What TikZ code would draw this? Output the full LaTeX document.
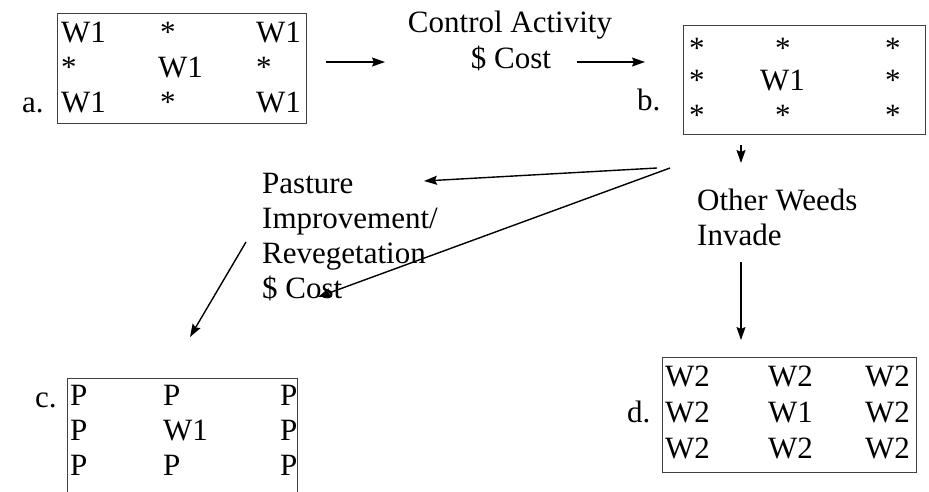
\documentclass[tikz,border=0pt]{standalone}
\usepackage{fontspec}
\setmainfont{Liberation Serif}
\usetikzlibrary{arrows.meta}
\begin{document}
\begin{tikzpicture}[x=1pt,y=-1pt,
  txt/.style={anchor=base west,inner sep=0pt,font=\fontsize{31}{35}\selectfont},
  ctxt/.style={anchor=base,inner sep=0pt,font=\fontsize{31}{35}\selectfont},
  gridbox/.style={draw=black!75,line width=1pt},
  arr/.style={line width=1.4pt,-{Stealth[length=13pt,width=9pt,inset=2pt]}}]
\useasboundingbox (0,0) rectangle (929,491);
% box a
\draw[gridbox] (57,13) rectangle (306,123);
\node[txt] (a11) at (61,42) {W1};
\node[txt] (a12) at (160,42) {*};
\node[txt] (a13) at (256,42) {W1};
\node[txt] (a21) at (61,77) {*};
\node[txt] (a22) at (158,77) {W1};
\node[txt] (a23) at (256,77) {*};
\node[txt] (a31) at (61,112) {W1};
\node[txt] (a32) at (160,112) {*};
\node[txt] (a33) at (256,112) {W1};
\node[txt] (la) at (22,112) {a.};
% control activity
\node[ctxt] (ca1) at (510,32) {Control Activity};
\node[ctxt] (ca2) at (511,68) {\$ Cost};
% box b
\draw[gridbox] (683,25) rectangle (925,134);
\node[txt] (b11) at (689,58) {*};
\node[txt] (b12) at (775,58) {*};
\node[txt] (b13) at (885,58) {*};
\node[txt] (b21) at (689,90) {*};
\node[txt] (b22) at (760,90) {W1};
\node[txt] (b23) at (885,90) {*};
\node[txt] (b31) at (689,125) {*};
\node[txt] (b32) at (775,125) {*};
\node[txt] (b33) at (885,125) {*};
\node[txt] (lb) at (637,110) {b.};
% pasture text
\node[txt] (p1) at (262,193) {Pasture};
\node[txt] (p2) at (262,228) {Improvement/};
\node[txt] (p3) at (262,263) {Revegetation};
\node[txt] (p4) at (262,298) {\$ Cost};
% other weeds
\node[txt] (o1) at (697,210) {Other Weeds};
\node[txt] (o2) at (697,245) {Invade};
% box c
\draw[gridbox] (67,500) -- (67,378) -- (297,378) -- (297,500);
\node[txt] (c11) at (70,405) {P};
\node[txt] (c12) at (163,405) {P};
\node[txt] (c13) at (280,405) {P};
\node[txt] (c21) at (70,440) {P};
\node[txt] (c22) at (163,440) {W1};
\node[txt] (c23) at (280,440) {P};
\node[txt] (c31) at (70,475) {P};
\node[txt] (c32) at (163,475) {P};
\node[txt] (c33) at (280,475) {P};
\node[txt] (lc) at (35,407) {c.};
% box d
\draw[gridbox] (662,357) rectangle (916,472);
\node[txt] (d11) at (665,386) {W2};
\node[txt] (d12) at (768,386) {W2};
\node[txt] (d13) at (865,386) {W2};
\node[txt] (d21) at (665,422) {W2};
\node[txt] (d22) at (768,422) {W1};
\node[txt] (d23) at (865,422) {W2};
\node[txt] (d31) at (665,458) {W2};
\node[txt] (d32) at (768,458) {W2};
\node[txt] (d33) at (865,458) {W2};
\node[txt] (ld) at (627,422) {d.};
% connector coordinates
\coordinate (s1) at (326,62);
\coordinate (e1) at (385,62);
\coordinate (s2) at (577,62);
\coordinate (e2) at (645,62);
\coordinate (s3) at (741,145);
\coordinate (e3) at (741,163);
\coordinate (s4) at (657,168);
\coordinate (e4) at (424,181);
\coordinate (s5) at (670,168);
\coordinate (e5) at (318,297);
\coordinate (s6) at (246,242);
\coordinate (e6) at (190,337);
\coordinate (s7) at (741,262);
\coordinate (e7) at (741,340);
\draw[arr] (s1) -- (e1);
\draw[arr] (s2) -- (e2);
\draw[arr] (s3) -- (e3);
\draw[arr] (s4) -- (e4);
\draw[arr] (s5) -- (e5);
\draw[arr] (s6) -- (e6);
\draw[arr] (s7) -- (e7);
\end{tikzpicture}
\end{document}
